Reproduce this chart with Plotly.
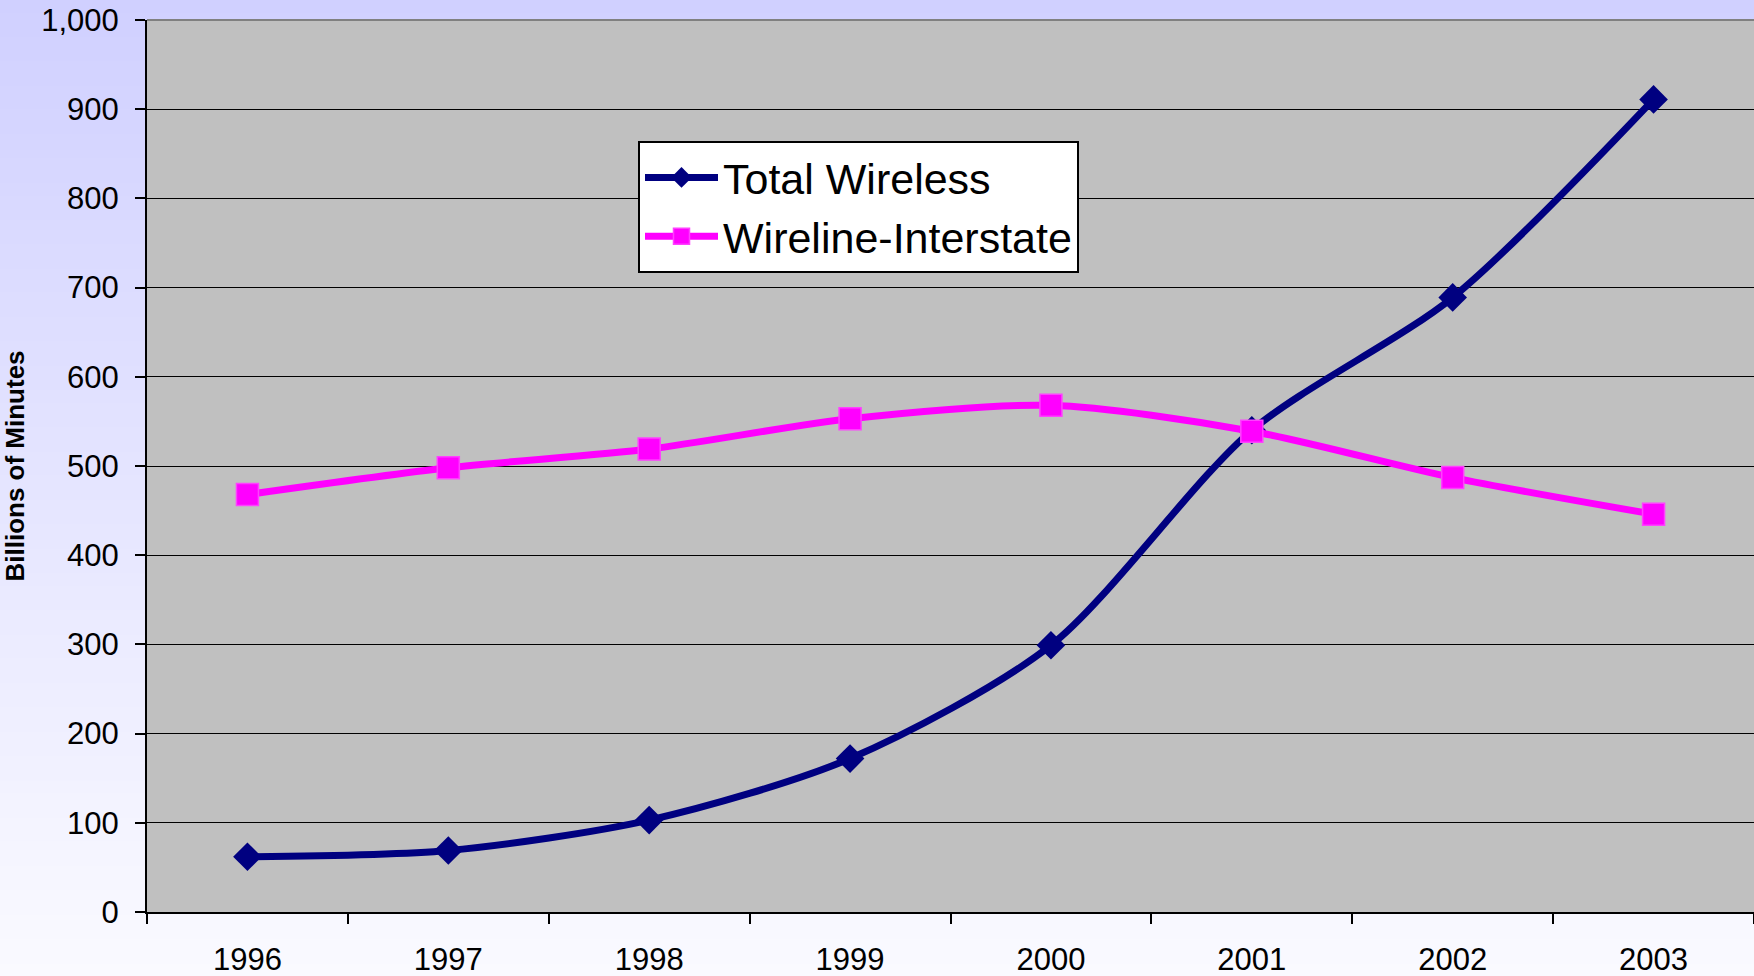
import plotly.graph_objects as go

years = ["1996", "1997", "1998", "1999", "2000", "2001", "2002", "2003"]
total_wireless = [62, 69, 103, 172, 299, 540, 689, 911]
wireline_interstate = [468, 498, 519, 553, 568, 539, 487, 446]
y_ticks = [0, 100, 200, 300, 400, 500, 600, 700, 800, 900, 1000]

W, H = 1754, 976
M_L, M_R, M_T, M_B = 147, 0, 20, 64

fig = go.Figure()

fig.add_trace(go.Scatter(
    x=years, y=total_wireless, name="Total Wireless",
    mode="lines+markers",
    line=dict(color="#000080", width=7, shape="spline", smoothing=0.8),
    marker=dict(symbol="diamond", size=22, color="#000080"),
))
fig.add_trace(go.Scatter(
    x=years, y=wireline_interstate, name="Wireline-Interstate",
    mode="lines+markers",
    line=dict(color="#FF00FF", width=7, shape="spline", smoothing=0.8),
    marker=dict(symbol="square", size=22, color="#FF00FF",
                line=dict(color="#FF40FF", width=1.5)),
))

# vertical lavender-to-white page gradient, built from thin bands
shapes = []
n = 80
ph = H - M_T - M_B
y0p = -M_B / ph
y1p = 1 + M_T / ph
top = (208, 208, 255)
bot = (250, 250, 255)
for i in range(n):
    t = i / (n - 1)
    c = tuple(round(top[k] + (bot[k] - top[k]) * t) for k in range(3))
    ya = y1p - (y1p - y0p) * i / n
    yb = y1p - (y1p - y0p) * (i + 1) / n
    shapes.append(dict(
        type="rect", xref="paper", yref="paper",
        x0=-M_L / (W - M_L) - 0.01, x1=1.01, y0=yb - 0.002, y1=ya,
        fillcolor="rgb(%d,%d,%d)" % c, line=dict(width=0), layer="below",
    ))
# grey plotting area
shapes.append(dict(type="rect", xref="paper", yref="paper", x0=0, x1=1, y0=0, y1=1,
                   fillcolor="#C0C0C0", line=dict(width=0), layer="below"))
# thin grey border along the top of the plotting area
shapes.append(dict(type="line", xref="paper", yref="paper", x0=0, x1=1, y0=1, y1=1,
                   line=dict(color="#808080", width=2), layer="above"))

fig.update_layout(
    width=W, height=H,
    margin=dict(l=M_L, r=M_R, t=M_T, b=M_B, autoexpand=False),
    paper_bgcolor="rgba(0,0,0,0)",
    plot_bgcolor="rgba(0,0,0,0)",
    shapes=shapes,
    font=dict(family="Liberation Sans, Arial, sans-serif", color="#000000"),
    showlegend=True,
    legend=dict(
        x=(638 - M_L) / (W - M_L), y=(H - M_B - 141) / ph,
        xanchor="left", yanchor="top",
        bgcolor="#FFFFFF", bordercolor="#000000", borderwidth=2,
        font=dict(size=43, color="#000000"),
        itemwidth=73, tracegroupgap=0,
    ),
    xaxis=dict(
        type="category", tickson="boundaries", automargin=False,
        showgrid=False, showline=True, linecolor="#000000", linewidth=2,
        ticks="outside", ticklen=10, tickwidth=2, tickcolor="#000000",
        tickfont=dict(size=31), ticklabelstandoff=19,
        range=[-0.5, 7.5], zeroline=False,
    ),
    yaxis=dict(
        range=[0, 1000], tickvals=y_ticks, tickformat=",d", automargin=False,
        showgrid=True, gridcolor="#000000", gridwidth=1,
        showline=True, linecolor="#000000", linewidth=2,
        ticks="outside", ticklen=10, tickwidth=2, tickcolor="#000000",
        tickfont=dict(size=31), ticklabelstandoff=10,
        ticklabeloverflow="allow",
        zeroline=False,
        title=dict(text="<b>Billions of Minutes</b>", font=dict(size=26), standoff=18),
    ),
)

fig.write_html("out.html")
